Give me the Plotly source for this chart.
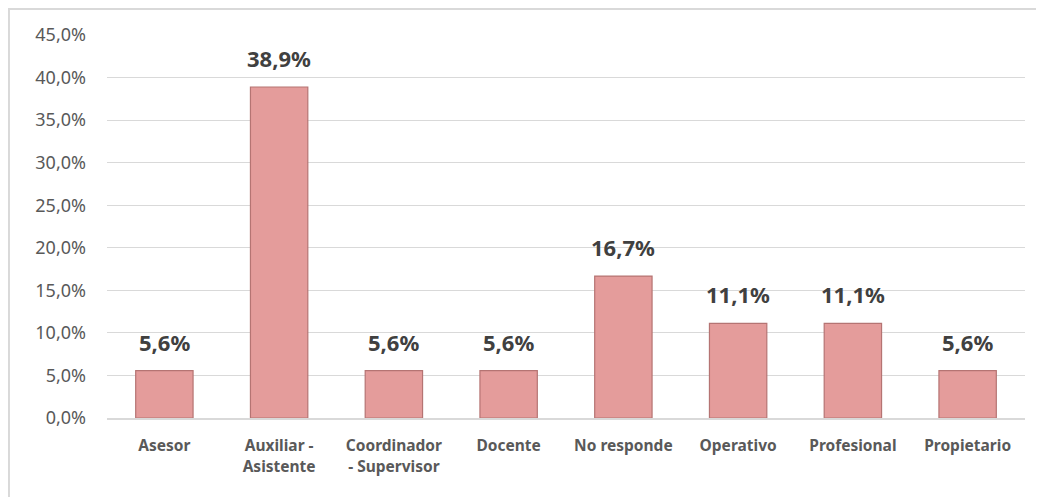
import plotly.graph_objects as go

categories = ["Asesor", "Auxiliar -<br>Asistente", "Coordinador<br>- Supervisor", "Docente",
              "No responde", "Operativo", "Profesional", "Propietario"]
values = [0.0556, 0.3889, 0.0556, 0.0556, 0.1667, 0.1111, 0.1111, 0.0556]
y_ticks = [0, 0.05, 0.10, 0.15, 0.20, 0.25, 0.30, 0.35, 0.40, 0.45]

FONT = "Noto Sans"

fig = go.Figure()
fig.add_trace(go.Bar(
    x=categories, y=values,
    marker=dict(color="#E49C9B", line=dict(color="#B57473", width=1.2)),
    width=0.5,
    hoverinfo="skip",
))

for c, v in zip(categories, values):
    fig.add_annotation(x=c, y=v, text=f"{v*100:.1f}%".replace(".", ","),
                       showarrow=False, yshift=29,
                       font=dict(family=FONT, size=22, color="#404040", weight="bold"))

# page body has an 8px default margin; figure sized to fit the 1044x497 window
fig.update_layout(
    width=1036, height=489,
    margin=dict(l=99, r=19, t=27, b=79),
    paper_bgcolor="white", plot_bgcolor="white",
    separators=",.",
    showlegend=False,
    xaxis=dict(
        showgrid=False, showline=True, linecolor="#D9D9D9", linewidth=1.5,
        tickfont=dict(family=FONT, size=15.5, color="#595959", weight="bold"),
        ticks="", ticklabelstandoff=13, fixedrange=True,
    ),
    yaxis=dict(
        range=[0, 0.45], tickvals=y_ticks, tickformat=".1%",
        showgrid=True, gridcolor="#D9D9D9", gridwidth=1,
        zeroline=False, showline=False,
        tickfont=dict(family=FONT, size=18, color="#595959"),
        ticklabelstandoff=20, fixedrange=True,
    ),
    shapes=[dict(type="rect", xref="paper", yref="paper",
                 x0=-0.1068, x1=1.2, y0=-0.5, y1=1.068,
                 line=dict(color="#D9D9D9", width=2), layer="below")],
)

fig.write_html("out.html")
